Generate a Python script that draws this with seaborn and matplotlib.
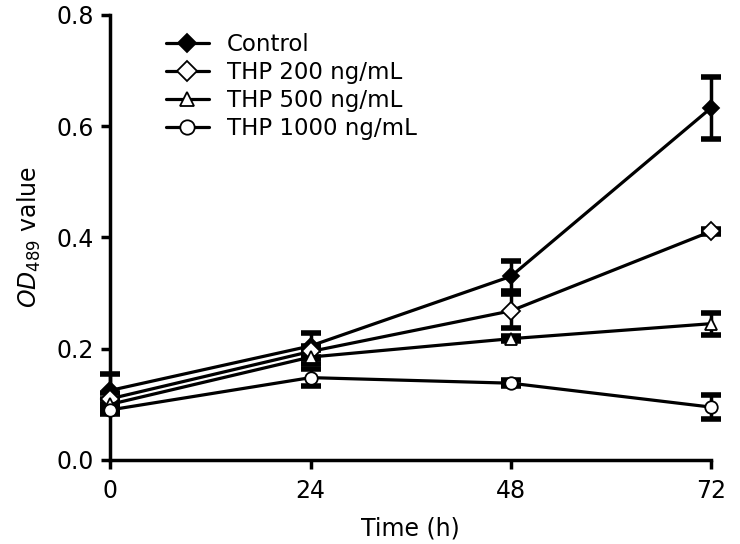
import numpy as np
import pandas as pd
import matplotlib
matplotlib.use("Agg")
import matplotlib.pyplot as plt
import seaborn as sns

times = [0, 24, 48, 72]
series_names = ["Control", "THP 200 ng/mL", "THP 500 ng/mL", "THP 1000 ng/mL"]
control = [0.125, 0.205, 0.330, 0.633]
control_err = [0.030, 0.023, 0.027, 0.056]
thp200 = [0.110, 0.195, 0.268, 0.411]
thp200_err = [0.010, 0.010, 0.030, 0.005]
thp500 = [0.100, 0.185, 0.218, 0.245]
thp500_err = [0.010, 0.012, 0.005, 0.020]
thp1000 = [0.090, 0.148, 0.138, 0.095]
thp1000_err = [0.008, 0.015, 0.005, 0.022]

x_ticks = [0, 24, 48, 72]
y_ticks = [0.0, 0.2, 0.4, 0.6, 0.8]

values = [control, thp200, thp500, thp1000]
errors = [control_err, thp200_err, thp500_err, thp1000_err]

rows = []
for name, vals, errs in zip(series_names, values, errors):
    for t, v, e in zip(times, vals, errs):
        rows.append({"Time": t, "OD": v, "err": e, "Group": name})
df = pd.DataFrame(rows)

sns.set_theme(style="ticks")
plt.rcParams["font.family"] = ["DejaVu Sans"]
plt.rcParams["mathtext.fontset"] = "dejavusans"
plt.rcParams["text.color"] = "black"
plt.rcParams["axes.labelcolor"] = "black"

fig = plt.figure(figsize=(7.4, 5.44), dpi=100)
ax = fig.add_axes([0.149, 0.1545, 0.812, 0.818])

markers = {"Control": "D", "THP 200 ng/mL": "D", "THP 500 ng/mL": "^", "THP 1000 ng/mL": "o"}
facecolors = {"Control": "black", "THP 200 ng/mL": "white", "THP 500 ng/mL": "white", "THP 1000 ng/mL": "white"}
msizes = {"Control": 8, "THP 200 ng/mL": 9, "THP 500 ng/mL": 9, "THP 1000 ng/mL": 9}

for name in series_names:
    sub = df[df["Group"] == name]
    ax.errorbar(sub["Time"], sub["OD"], yerr=sub["err"], fmt="none",
                ecolor="black", elinewidth=2.5, capsize=7, capthick=4, zorder=2)

for name in series_names:
    sub = df[df["Group"] == name]
    sns.lineplot(data=sub, x="Time", y="OD", ax=ax, color="black", linewidth=2.3,
                 marker=markers[name], markersize=msizes[name],
                 markerfacecolor=facecolors[name], markeredgecolor="black",
                 markeredgewidth=1.3, label=name, zorder=3, errorbar=None)

ax.set_xlim(0, 72)
ax.set_ylim(0, 0.8)
ax.set_xticks(x_ticks)
ax.set_xticklabels([str(t) for t in x_ticks])
ax.set_yticks(y_ticks)
ax.set_yticklabels([f"{v:.1f}" for v in y_ticks])
for s in ["top", "right"]:
    ax.spines[s].set_visible(False)
for s in ["left", "bottom"]:
    ax.spines[s].set_linewidth(2.5)
    ax.spines[s].set_color("black")
    ax.spines[s].set_capstyle("projecting")
ax.tick_params(axis="both", which="major", length=6.5, width=2.5, direction="out",
               labelsize=17, colors="black")
ax.tick_params(axis="x", pad=7)
ax.tick_params(axis="y", pad=5)
ax.set_xlabel("Time (h)", fontsize=17, color="black", labelpad=10)
ax.set_ylabel(r"$\mathit{OD}_{\mathrm{489}}$ value", fontsize=17, color="black", labelpad=10)

for sp in ax.spines.values():
    sp.set_clip_on(False)
for line in ax.lines:
    line.set_clip_on(False)
for coll in ax.collections:
    coll.set_clip_on(False)

leg = ax.legend(loc="upper left", bbox_to_anchor=(0.078, 0.981), frameon=False,
                fontsize=16.5, handlelength=1.85, handletextpad=0.8, labelspacing=0.22,
                borderaxespad=0, markerscale=1.15)
for t in leg.get_texts():
    t.set_color("black")

fig.savefig("out.png", dpi=100, facecolor="white")
